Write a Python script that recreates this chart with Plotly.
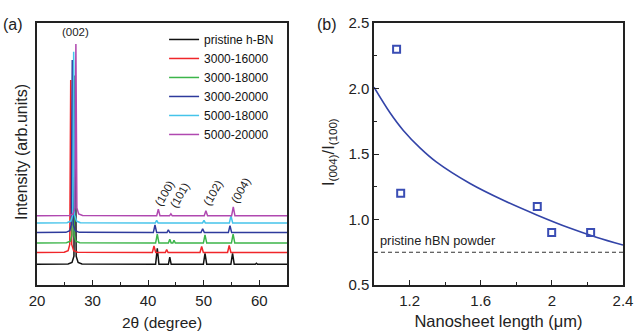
import plotly.graph_objects as go

# ---------------- Panel (a): XRD patterns ----------------
series_names = ["pristine h-BN", "3000-16000", "3000-18000", "3000-20000", "5000-18000", "5000-20000"]
series_colors = ["#111111", "#f0262a", "#3cb54a", "#2e3a9c", "#45c4ea", "#b048b0"]

x_black = [20, 25.6, 26.3, 26.65, 26.85, 27.05, 27.4, 28.1, 41.35, 41.65, 41.95, 43.65, 43.9, 44.15,
           49.95, 50.24, 50.55, 54.9, 55.2, 55.5, 59.3, 59.5, 59.7, 65]
y_black = [7.9, 8.0, 8.6, 11.0, 80, 11.0, 8.6, 8.0, 7.9, 14.0, 7.9, 7.9, 10.6, 7.9,
           7.9, 12.1, 7.9, 7.9, 12.1, 7.9, 7.9, 8.3, 7.9, 7.9]

x_red = [20, 24.9, 25.6, 25.9, 26.07, 26.25, 26.6, 27.3, 40.76, 41.06, 41.36, 43.1, 43.34, 43.6,
         49.34, 49.64, 49.94, 54.3, 54.6, 54.9, 65]
y_red = [12.4, 12.5, 13.1, 15.5, 78.2, 15.5, 13.1, 12.5, 12.4, 14.9, 12.4, 12.4, 13.5, 12.4,
         12.4, 14.7, 12.4, 12.4, 15.1, 12.4, 12.4]

x_green = [20, 25.3, 26.0, 26.3, 26.5, 26.7, 27.0, 27.7, 41.35, 41.65, 41.95, 43.65, 43.9, 44.15,
           44.45, 44.66, 44.9, 49.95, 50.24, 50.55, 55.0, 55.3, 55.6, 65]
y_green = [16.0, 16.1, 16.7, 19.0, 82, 19.0, 16.7, 16.1, 16.0, 19.4, 16.0, 16.0, 17.5, 16.0,
           16.0, 17.1, 16.0, 16.0, 19.1, 16.0, 16.0, 19.4, 16.0, 16.0]

x_blue = [20, 25.2, 25.9, 26.17, 26.35, 26.53, 26.9, 27.6, 40.94, 41.24, 41.54, 43.4, 43.64, 43.9,
          49.52, 49.82, 50.12, 54.44, 54.74, 55.04, 65]
y_blue = [20.0, 20.1, 20.7, 23.0, 85.9, 23.0, 20.7, 20.1, 20.0, 22.9, 20.0, 20.0, 21.1, 20.0,
          20.0, 21.5, 20.0, 20.0, 22.6, 20.0, 20.0]

x_cyan = [20, 25.4, 26.1, 26.42, 26.6, 26.78, 27.1, 27.8, 41.3, 41.54, 41.8, 49.8, 50.06, 50.3,
          54.62, 54.92, 55.22, 65]
y_cyan = [23.7, 23.8, 24.4, 26.7, 89.0, 26.7, 24.4, 23.8, 23.7, 24.7, 23.7, 23.7, 24.7, 23.7,
          23.7, 26.4, 23.7, 23.7]

x_magenta = [20, 25.8, 26.5, 26.82, 27.0, 27.18, 27.5, 28.2, 41.54, 41.84, 42.14, 43.85, 44.1, 44.35,
             50.1, 50.4, 50.7, 55.03, 55.33, 55.63, 65]
y_magenta = [26.4, 26.5, 27.1, 29.4, 92.0, 29.4, 27.1, 26.5, 26.4, 28.9, 26.4, 26.4, 27.2, 26.4,
             26.4, 28.3, 26.4, 26.4, 29.8, 26.4, 26.4]

peak_labels = ["(002)", "(100)", "(101)", "(102)", "(004)"]
peak_label_x = [26.9, 43.0, 45.7, 51.7, 56.7]
peak_label_y = [96.7, 35.1, 34.4, 35.0, 36.3]
peak_label_angle = [0, -60, -60, -60, -60]

# ---------------- Panel (b): intensity ratio ----------------
length_um = [1.127, 1.150, 1.918, 1.999, 2.218]
ratio = [2.30, 1.20, 1.10, 0.90, 0.90]

fit_x = [1.0, 1.09, 1.165, 1.26, 1.35, 1.54, 1.73, 1.915, 2.10, 2.25, 2.4]
fit_y = [2.01, 1.815, 1.68, 1.545, 1.44, 1.275, 1.145, 1.035, 0.935, 0.865, 0.805]

pristine_ratio = 0.75

FONT = "Liberation Sans, Arial, sans-serif"
TXT = "#222222"

fig = go.Figure()

xs = [x_black, x_red, x_green, x_blue, x_cyan, x_magenta]
ys = [y_black, y_red, y_green, y_blue, y_cyan, y_magenta]
for name, col, xv, yv in zip(series_names, series_colors, xs, ys):
    fig.add_trace(go.Scatter(x=xv, y=yv, mode="lines", name=name,
                             line=dict(color=col, width=1.5),
                             xaxis="x", yaxis="y"))

fig.add_trace(go.Scatter(x=fit_x, y=fit_y, mode="lines", line=dict(color="#3344a8", width=1.6, shape="spline"),
                         showlegend=False, xaxis="x2", yaxis="y2"))
fig.add_trace(go.Scatter(x=length_um, y=ratio, mode="markers",
                         marker=dict(symbol="square-open", size=7, color="#3a4db4", line=dict(width=2, color="#3a4db4")),
                         showlegend=False, xaxis="x2", yaxis="y2"))
fig.add_trace(go.Scatter(x=[1.0, 2.4], y=[pristine_ratio, pristine_ratio], mode="lines",
                         line=dict(color="#333333", width=1, dash="4px,3px"),
                         showlegend=False, xaxis="x2", yaxis="y2"))

axis_common = dict(showline=True, mirror=True, linecolor="#222222", linewidth=1.5, automargin=False,
                   showgrid=False, zeroline=False, ticks="inside", ticklen=5, tickwidth=1.2,
                   tickcolor="#222222", tickfont=dict(family=FONT, size=15, color=TXT))

fig.update_layout(
    width=636, height=333,
    margin=dict(l=0, r=0, t=0, b=0, autoexpand=False),
    paper_bgcolor="white", plot_bgcolor="white",
    font=dict(family=FONT, color=TXT),
    xaxis=dict(domain=[37/636, 287/636], range=[20, 65], tickmode="linear", tick0=20, dtick=10,
               ticklabelstandoff=1,
               minor=dict(ticks="inside", dtick=5, tick0=20, ticklen=3, tickcolor="#222222"),
               title=dict(text="2θ (degree)", font=dict(family=FONT, size=15.5, color=TXT), standoff=9),
               anchor="y", **axis_common),
    yaxis=dict(domain=[48/333, 310/333], range=[0, 100], anchor="x", automargin=False,
               showline=True, mirror=True, linecolor="#222222", linewidth=1.5,
               showgrid=False, zeroline=False, ticks="", showticklabels=False),
    xaxis2=dict(domain=[374/636, 623/636], range=[1.0, 2.4], tickmode="linear", tick0=1.2, dtick=0.4,
                ticklabelstandoff=1,
                minor=dict(ticks="inside", dtick=0.2, tick0=1.0, ticklen=3, tickcolor="#222222"),
                title=dict(text="Nanosheet length (μm)", font=dict(family=FONT, size=16.5, color=TXT), standoff=8),
                anchor="y2", **axis_common),
    yaxis2=dict(domain=[48/333, 310/333], range=[0.5, 2.5], tickmode="linear", tick0=0.5, dtick=0.5,
                tickformat=".1f",
                minor=dict(ticks="inside", dtick=0.25, tick0=0.5, ticklen=3, tickcolor="#222222"),
                anchor="x2", **axis_common),
    legend=dict(x=0.258, y=0.925, xanchor="left", yanchor="top", bgcolor="rgba(0,0,0,0)",
                font=dict(family=FONT, size=12, color="#111111"), tracegroupgap=0, itemwidth=30),
    showlegend=True,
)

annotations = []
for t, xv, yv, ang in zip(peak_labels, peak_label_x, peak_label_y, peak_label_angle):
    annotations.append(dict(text=t, x=xv, y=yv, xref="x", yref="y", showarrow=False, textangle=ang,
                            xanchor="center", yanchor="middle",
                            font=dict(family=FONT, size=11.5, color=TXT)))
annotations += [
    dict(text="(a)", x=13/636, y=1 - 25/333, xref="paper", yref="paper", showarrow=False,
         xanchor="center", yanchor="middle", font=dict(family=FONT, size=16, color=TXT)),
    dict(text="(b)", x=327/636, y=1 - 25/333, xref="paper", yref="paper", showarrow=False,
         xanchor="center", yanchor="middle", font=dict(family=FONT, size=16, color=TXT)),
    dict(text="Intensity (arb.units)", x=22/636, y=1 - 152/333, xref="paper", yref="paper", showarrow=False,
         xanchor="center", yanchor="middle", textangle=-90, font=dict(family=FONT, size=16, color=TXT)),
    dict(text="I<sub>(004)</sub>/I<sub>(100)</sub>", x=329/636, y=1 - 152/333, xref="paper", yref="paper",
         xanchor="center", yanchor="middle",
         showarrow=False, textangle=-90, font=dict(family=FONT, size=16.5, color=TXT)),
    dict(text="pristine hBN powder", x=1.02, y=0.84, xref="x2", yref="y2", xanchor="left", showarrow=False,
         font=dict(family=FONT, size=12.8, color=TXT)),
]
fig.update_layout(annotations=annotations)

fig.write_html("out.html", config={"displayModeBar": False},
               post_script="document.body.style.margin='0px';")
